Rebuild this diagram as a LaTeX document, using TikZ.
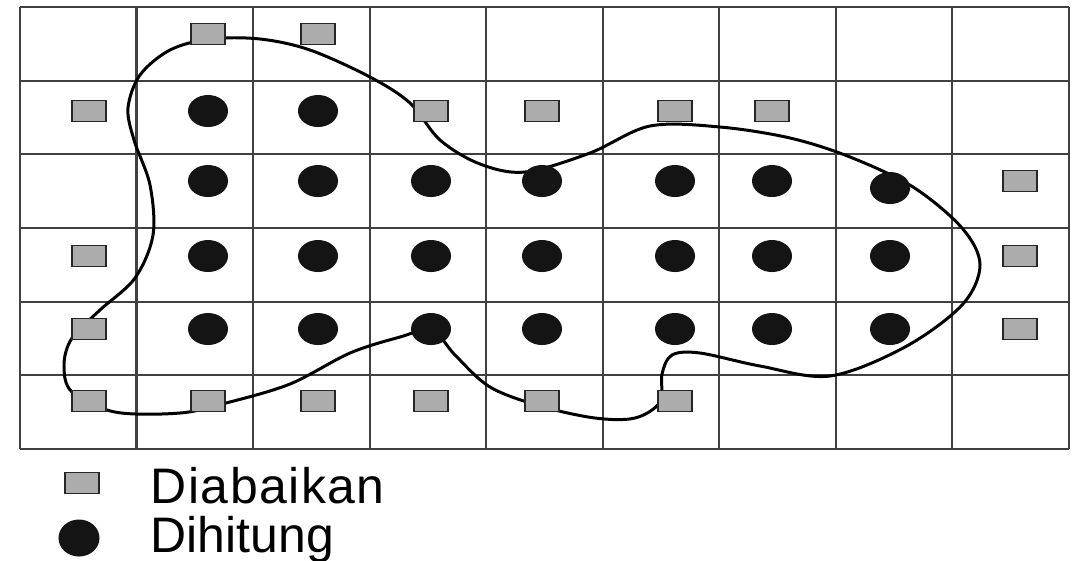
\documentclass[tikz,border=0pt]{standalone}
\usepackage{fontspec}
\setmainfont{Liberation Sans}
\usepackage{tikz}
\usetikzlibrary{shapes}

\tikzset{
  gridline/.style={black!75, line width=0.6pt},
  ignored/.style={rectangle, draw=black!85, fill=gray!65, line width=0.45pt,
    minimum width=0.34cm, minimum height=0.21cm, inner sep=0pt},
  counted/.style={ellipse, fill=black!92, minimum width=0.40cm,
    minimum height=0.32cm, inner sep=0pt},
  keytext/.style={anchor=base west, inner sep=0pt,
    font=\fontsize{14.2}{16}\selectfont}
}

\begin{document}
\begin{tikzpicture}[x=0.01cm, y=-0.01cm]
  \useasboundingbox[fill=white] (0,0) rectangle (1086,560);
  % grid of 9 x 6 cells
  \foreach \i in {0,...,9} {
    \draw[gridline] ({20+116.55*\i},7) -- ({20+116.55*\i},449);
  }
  \foreach \j in {0,...,6} {
    \draw[gridline] (20,{7+73.67*\j}) -- (1069,{7+73.67*\j});
  }
  % outline of the object
  \draw[black, line width=0.85pt] plot[smooth cycle, tension=0.55] coordinates {
    (210,39) (260,39) (310,50) (370,77) (410,103) (440,140) (480,164)
    (525,172) (590,153) (650,126) (720,127) (790,138) (850,157) (913,187)
    (962,228) (980,265) (962,305) (905,347) (830,376) (760,366) (700,353)
    (672,355) (662,374) (660,402) (635,418) (595,418) (540,406) (490,387)
    (455,355) (432,330) (400,337) (350,353) (290,384) (226,403) (180,413)
    (115,412) (72,392) (64,365) (72,338) (100,310) (135,278) (153,235)
    (150,185) (134,140) (128,108) (140,75) (170,50)};
  % squares: not counted
  \foreach \x/\y [count=\k] in {208/34, 318/34,
      89/111, 431/111, 542/111, 675/111, 772/111,
      1020/181, 89/256, 1020/256, 89/329, 1020/329,
      89/401, 208/401, 318/401, 431/401, 542/401, 675/401} {
    \node[ignored] (sq\k) at (\x,\y) {};
  }
  % dots: counted
  \foreach \x/\y [count=\k] in {208/111, 318/111,
      208/181, 318/181, 431/181, 542/181, 675/181, 772/181, 890/188} {
    \node[counted] (dot\k) at (\x,\y) {};
  }
  \foreach \y [count=\r] in {256,329} {
    \foreach \x [count=\c] in {208,318,431,542,675,772,890} {
      \node[counted] (dot\r-\c) at (\x,\y) {};
    }
  }
  % legend
  \node[ignored] (keysq) at (82,483) {};
  \node[counted, minimum width=0.41cm, minimum height=0.37cm] (keydot) at (79,538) {};
  \node[keytext] (keyignored) at (150,503) {\addfontfeature{LetterSpace=3}Diabaikan};
  \node[keytext] (keycounted) at (150,552) {Dihitung};
\end{tikzpicture}
\end{document}
